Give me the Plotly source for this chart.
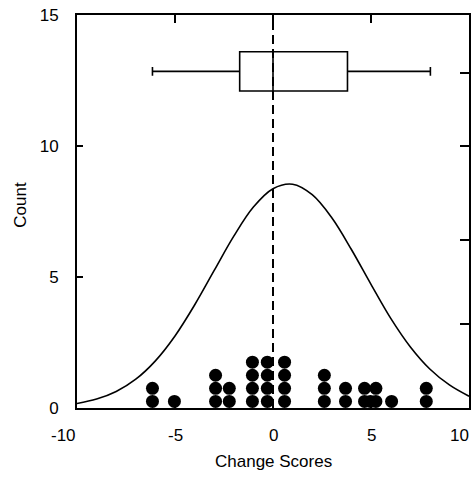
import plotly.graph_objects as go

# ---- data ----
x_ticks = [-10, -5, 0, 5, 10]
y_ticks = [0, 5, 10, 15]
right_ticks = [3.2, 6.4, 10, 12.8]

dot_cols = [-6.15, -5.03, -2.93, -2.23, -1.05, -0.29, 0.59, 2.62, 3.70, 4.67, 4.97, 5.25, 6.05, 7.82]
dot_counts = [2, 1, 3, 2, 4, 4, 4, 3, 2, 2, 1, 2, 1, 2]

curve_x = [-10, -9, -8, -7, -6, -5, -4, -3, -2, -1, 0, 1, 2, 3, 4, 5, 6, 7, 8, 9, 10]
curve_y = [0.17, 0.34, 0.63, 1.10, 1.80, 2.75, 3.93, 5.25, 6.56, 7.67, 8.37, 8.54,
           8.14, 7.26, 6.05, 4.72, 3.43, 2.34, 1.49, 0.88, 0.45]

box_q1 = -1.7
box_median = 0.0
box_q3 = 3.8
box_low = -6.15
box_high = 8.03
box_pos = 12.85

ref_x = 0
x_title = "Change Scores"
y_title = "Count"

# ---- build dot positions (stacked) ----
dot_x, dot_y = [], []
for cx, n in zip(dot_cols, dot_counts):
    for k in range(n):
        dot_x.append(cx)
        dot_y.append(0.25 + 0.5 * k)

FONT = "Liberation Sans, Arial, sans-serif"
FS = 17

fig = go.Figure()

fig.add_trace(go.Scatter(x=[ref_x, ref_x], y=[0, 15], mode="lines",
                         line=dict(color="black", width=2, dash="9px,5px"),
                         showlegend=False, hoverinfo="skip"))

fig.add_trace(go.Scatter(x=curve_x, y=curve_y, mode="lines", line_shape="spline",
                         line=dict(color="black", width=1.6), showlegend=False))

fig.add_trace(go.Scatter(x=dot_x, y=dot_y, mode="markers",
                         marker=dict(color="black", size=13), showlegend=False))

fig.add_trace(go.Box(orientation="h", y=[box_pos], q1=[box_q1], median=[box_median],
                     q3=[box_q3], lowerfence=[box_low], upperfence=[box_high],
                     width=1.5, whiskerwidth=0.22, fillcolor="white",
                     line=dict(color="black", width=1.6), showlegend=False))

# invisible trace to activate right axis
fig.add_trace(go.Scatter(x=[None], y=[None], yaxis="y2", showlegend=False))

annotations = []
for v in x_ticks:
    if v == x_ticks[0]:
        xa, xs = "right", 1
    elif v == x_ticks[-1]:
        xa, xs = "right", 2
    else:
        xa, xs = "center", 0
    annotations.append(dict(x=v, y=0, xref="x", yref="y", yanchor="top", yshift=-16,
                            xanchor=xa, xshift=xs, text=str(v), showarrow=False,
                            font=dict(family=FONT, size=FS, color="black")))

annotations.append(dict(x=0.5, y=-0.137, xref="paper", yref="paper", xanchor="center",
                        yanchor="middle", text=x_title, showarrow=False,
                        font=dict(family=FONT, size=FS, color="black")))
annotations.append(dict(x=-0.143, y=0.517, xref="paper", yref="paper", xanchor="center",
                        yanchor="middle", text=y_title, textangle=-90, showarrow=False,
                        font=dict(family=FONT, size=FS, color="black")))

fig.update_layout(
    width=473, height=491,
    margin=dict(l=77, r=4, t=15, b=83),
    plot_bgcolor="white", paper_bgcolor="white",
    font=dict(family=FONT, size=FS, color="black"),
    xaxis=dict(range=[-10, 10], tickvals=x_ticks[1:-1], showticklabels=False,
               ticks="inside", ticklen=8, tickwidth=2, tickcolor="black",
               showline=True, linecolor="black", linewidth=2, mirror="ticks",
               showgrid=False, zeroline=False, automargin=False),
    yaxis=dict(range=[0, 15], tickvals=y_ticks, ticks="inside", ticklen=6,
               tickwidth=1.5, tickcolor="black", showline=True, linecolor="black",
               linewidth=2, mirror=True, showgrid=False, zeroline=False,
               ticklabelstandoff=13, automargin=False),
    yaxis2=dict(range=[0, 15], overlaying="y", side="right", tickvals=right_ticks,
                showticklabels=False, ticks="inside", ticklen=9, tickwidth=2,
                tickcolor="black", showgrid=False, zeroline=False, showline=False,
                automargin=False),
    annotations=annotations,
)

fig.write_html("out.html", config={"displayModeBar": False},
               post_script="document.body.style.margin='0px';document.body.style.overflow='hidden';")
